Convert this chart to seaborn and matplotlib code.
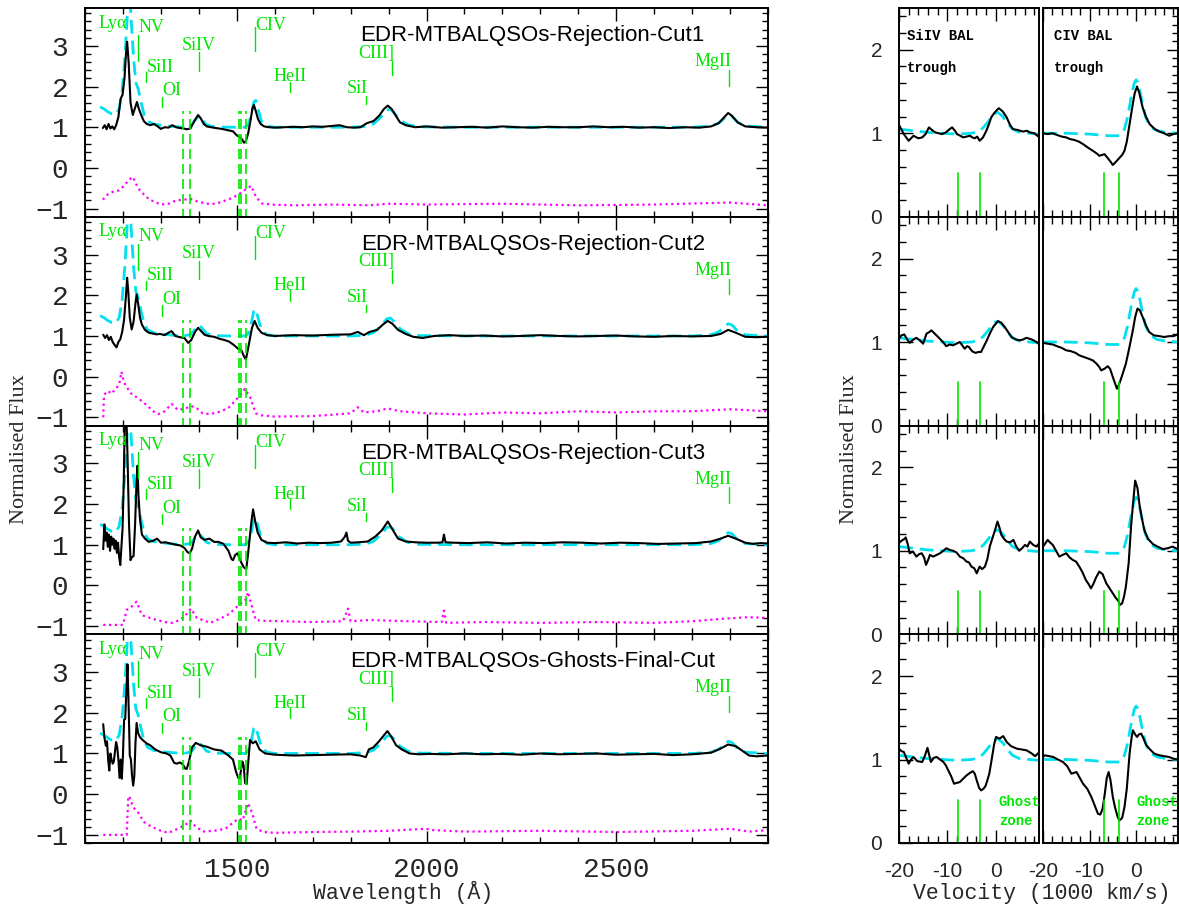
import matplotlib
matplotlib.use("Agg")
import matplotlib.pyplot as plt
import seaborn as sns
import numpy as np
from matplotlib.ticker import MultipleLocator, FixedLocator

# ---------------- data ----------------
PANEL_TITLES = ["EDR-MTBALQSOs-Rejection-Cut1", "EDR-MTBALQSOs-Rejection-Cut2",
                "EDR-MTBALQSOs-Rejection-Cut3", "EDR-MTBALQSOs-Ghosts-Final-Cut"]

# non-BAL template (cyan dashed), wavelength (A), normalised flux
TEMPLATE = [(1140, 1.50), (1150, 1.45), (1160, 1.38), (1170, 1.33), (1180, 1.30), (1190, 1.45),
            (1198, 1.9), (1205, 2.7), (1210, 3.5), (1216, 4.6), (1222, 3.6), (1228, 2.7),
            (1234, 2.1), (1240, 1.95), (1248, 1.6), (1256, 1.3), (1265, 1.15), (1280, 1.08),
            (1300, 1.05), (1330, 1.02), (1360, 1.0), (1380, 1.04), (1392, 1.2), (1400, 1.27),
            (1408, 1.2), (1420, 1.06), (1440, 1.01), (1480, 1.0), (1520, 1.0), (1530, 1.05),
            (1538, 1.3), (1545, 1.62), (1550, 1.66), (1556, 1.45), (1565, 1.15), (1580, 1.03),
            (1600, 1.0), (1700, 1.0), (1800, 1.0), (1840, 1.02), (1860, 1.08), (1880, 1.25),
            (1895, 1.42), (1905, 1.44), (1915, 1.35), (1930, 1.18), (1950, 1.06), (1980, 1.01),
            (2100, 1.0), (2300, 1.0), (2500, 1.0), (2700, 1.0), (2750, 1.03), (2770, 1.1),
            (2785, 1.22), (2795, 1.3), (2805, 1.27), (2820, 1.12), (2840, 1.03), (2900, 1.0)]

# composite spectra (black)
CUT1 = [(1147, 0.98), (1152, 1.05), (1157, 0.95), (1162, 1.08), (1167, 0.97), (1172, 1.02), (1177, 0.95),
        (1182, 1.05), (1188, 1.25), (1194, 1.7), (1199, 1.8), (1204, 2.2), (1208, 2.8), (1211, 3.1),
        (1215, 2.6), (1220, 1.6), (1226, 1.3), (1231, 1.45), (1237, 1.62), (1242, 1.45), (1248, 1.3),
        (1255, 1.15), (1263, 1.08), (1272, 1.05), (1282, 1.08), (1290, 1.03), (1300, 0.96), (1310, 1.0),
        (1320, 0.99), (1330, 1.05), (1340, 1.0), (1350, 0.98), (1360, 0.97), (1368, 0.95), (1378, 0.97),
        (1388, 1.15), (1398, 1.3), (1405, 1.22), (1413, 1.08), (1421, 1.02), (1432, 1.0), (1445, 0.98),
        (1460, 0.96), (1475, 0.93), (1490, 0.9), (1500, 0.8), (1508, 0.76), (1514, 0.7), (1519, 0.62),
        (1524, 0.66), (1530, 0.85), (1536, 1.15), (1541, 1.45), (1545, 1.55), (1550, 1.4), (1556, 1.2),
        (1563, 1.08), (1572, 1.02), (1585, 1.0), (1600, 0.99), (1625, 1.0), (1650, 1.01), (1675, 1.0),
        (1700, 1.02), (1725, 1.01), (1750, 1.03), (1771, 1.05), (1790, 1.0), (1810, 0.99), (1826, 1.0),
        (1843, 1.1), (1860, 1.15), (1875, 1.28), (1888, 1.45), (1898, 1.53), (1908, 1.45), (1918, 1.3),
        (1930, 1.12), (1945, 1.05), (1970, 1.0), (2000, 1.02), (2040, 0.99), (2080, 1.0), (2120, 1.01),
        (2160, 0.99), (2200, 1.02), (2240, 1.0), (2280, 0.99), (2320, 1.01), (2360, 1.0), (2400, 1.0),
        (2440, 1.02), (2480, 1.0), (2520, 1.01), (2560, 0.99), (2600, 1.0), (2640, 0.98), (2680, 1.0),
        (2720, 0.99), (2750, 1.02), (2770, 1.1), (2785, 1.25), (2795, 1.35), (2805, 1.28), (2820, 1.12),
        (2840, 1.02), (2870, 1.0), (2900, 0.99)]
CUT2 = [(1148, 1.03), (1153, 0.95), (1158, 1.02), (1163, 0.9), (1168, 0.98), (1173, 0.85), (1178, 0.78),
        (1183, 0.72), (1188, 0.85), (1193, 0.92), (1198, 1.1), (1203, 1.4), (1208, 2.0), (1211, 2.43),
        (1214, 2.1), (1218, 1.45), (1223, 1.16), (1228, 1.35), (1233, 1.8), (1236, 2.02), (1240, 1.8),
        (1245, 1.45), (1250, 1.28), (1258, 1.15), (1268, 1.08), (1278, 1.06), (1288, 1.04), (1298, 1.05),
        (1310, 1.02), (1320, 1.08), (1328, 1.12), (1338, 1.0), (1350, 0.97), (1362, 0.95), (1372, 0.83),
        (1380, 0.9), (1390, 1.1), (1398, 1.2), (1406, 1.12), (1415, 1.03), (1425, 1.0), (1440, 0.98),
        (1455, 0.93), (1468, 0.9), (1480, 0.86), (1492, 0.78), (1503, 0.69), (1512, 0.65), (1519, 0.5),
        (1524, 0.42), (1530, 0.7), (1535, 0.95), (1540, 1.2), (1547, 1.37), (1555, 1.2), (1565, 1.08),
        (1580, 1.02), (1600, 1.0), (1650, 1.02), (1700, 1.01), (1750, 1.03), (1800, 1.04), (1819, 1.1),
        (1835, 1.02), (1850, 1.1), (1870, 1.15), (1885, 1.28), (1898, 1.37), (1910, 1.3), (1925, 1.15),
        (1945, 1.05), (1965, 0.98), (1990, 0.95), (2020, 1.0), (2060, 1.02), (2100, 1.0), (2150, 1.01),
        (2200, 0.99), (2250, 1.0), (2300, 1.02), (2350, 1.0), (2400, 0.99), (2450, 1.0), (2500, 1.01),
        (2550, 0.99), (2600, 0.98), (2650, 1.0), (2700, 0.99), (2750, 1.0), (2775, 1.05), (2795, 1.15),
        (2815, 1.08), (2840, 0.98), (2870, 0.97), (2900, 0.98)]
CUT3 = [(1148, 0.89), (1151, 1.5), (1154, 1.1), (1157, 1.3), (1160, 0.95), (1163, 1.25), (1166, 0.85),
        (1169, 1.2), (1172, 1.0), (1175, 1.15), (1178, 0.9), (1181, 1.1), (1184, 0.8), (1187, 1.05),
        (1190, 0.7), (1193, 0.5), (1196, 0.95), (1199, 1.4), (1202, 2.5), (1205, 4.2), (1208, 4.5),
        (1212, 3.2), (1216, 1.5), (1220, 0.62), (1224, 0.7), (1228, 0.72), (1232, 1.5), (1236, 2.6),
        (1238, 2.94), (1241, 2.2), (1245, 1.62), (1250, 1.25), (1258, 1.15), (1268, 1.07), (1280, 1.1),
        (1290, 1.15), (1300, 1.05), (1312, 1.06), (1325, 1.03), (1340, 1.0), (1352, 0.98), (1362, 0.92),
        (1370, 0.82), (1376, 0.79), (1382, 0.9), (1390, 1.2), (1398, 1.35), (1405, 1.18), (1415, 1.12),
        (1428, 1.15), (1440, 1.07), (1452, 1.07), (1465, 1.02), (1478, 0.85), (1486, 0.65), (1490, 0.62),
        (1496, 0.75), (1502, 0.79), (1510, 0.6), (1518, 0.45), (1525, 0.4), (1530, 0.8), (1535, 1.25),
        (1539, 1.6), (1543, 1.87), (1548, 1.6), (1555, 1.3), (1565, 1.12), (1580, 1.05), (1600, 1.04),
        (1630, 1.06), (1660, 1.03), (1690, 1.05), (1720, 1.04), (1750, 1.05), (1775, 1.08), (1785, 1.2),
        (1789, 1.3), (1793, 1.1), (1800, 1.05), (1820, 1.06), (1845, 1.08), (1865, 1.2), (1882, 1.35),
        (1898, 1.57), (1912, 1.35), (1925, 1.15), (1945, 1.08), (1970, 1.06), (2000, 1.05), (2030, 1.05),
        (2042, 1.06), (2046, 1.25), (2050, 1.06), (2070, 1.05), (2110, 1.04), (2160, 1.06), (2210, 1.03),
        (2260, 1.05), (2310, 1.04), (2360, 1.06), (2410, 1.05), (2460, 1.03), (2510, 1.05), (2560, 1.04),
        (2610, 1.02), (2660, 1.03), (2710, 1.04), (2750, 1.08), (2775, 1.15), (2795, 1.22), (2815, 1.15),
        (2840, 1.05), (2860, 1.02), (2880, 1.04), (2900, 1.03)]
CUT4 = [(1148, 1.72), (1151, 1.4), (1155, 1.19), (1158, 1.3), (1161, 0.85), (1164, 0.58), (1167, 1.0),
        (1170, 0.85), (1173, 0.75), (1176, 0.8), (1179, 1.05), (1182, 1.28), (1185, 1.15), (1188, 0.85),
        (1191, 0.4), (1194, 0.85), (1197, 0.38), (1200, 0.95), (1203, 1.83), (1206, 1.85), (1209, 2.55),
        (1212, 3.19), (1215, 2.15), (1218, 0.95), (1221, 0.85), (1224, 0.45), (1227, 0.21), (1230, 0.45),
        (1233, 1.25), (1236, 1.75), (1240, 1.5), (1245, 1.4), (1252, 1.33), (1262, 1.25), (1272, 1.2),
        (1285, 1.1), (1300, 1.03), (1315, 1.0), (1325, 0.95), (1335, 0.77), (1342, 0.75), (1350, 0.78),
        (1358, 0.73), (1364, 0.63), (1368, 0.62), (1374, 0.8), (1382, 1.15), (1392, 1.26), (1405, 1.2),
        (1420, 1.17), (1440, 1.1), (1460, 1.07), (1478, 0.95), (1490, 0.85), (1498, 0.55), (1504, 0.4),
        (1508, 0.39), (1512, 0.65), (1515, 0.8), (1518, 0.7), (1522, 0.27), (1526, 0.25), (1530, 0.75),
        (1535, 1.33), (1542, 1.25), (1550, 1.3), (1560, 1.1), (1575, 1.0), (1600, 0.97), (1650, 0.95),
        (1700, 0.96), (1750, 0.97), (1800, 0.98), (1825, 0.95), (1840, 0.91), (1848, 1.1), (1860, 1.15),
        (1875, 1.3), (1888, 1.45), (1897, 1.55), (1908, 1.4), (1920, 1.2), (1935, 1.1), (1955, 1.0),
        (1980, 0.98), (2010, 0.99), (2050, 0.98), (2100, 1.0), (2150, 0.98), (2200, 0.99), (2250, 0.97),
        (2300, 1.0), (2350, 0.98), (2400, 0.99), (2450, 1.0), (2500, 0.97), (2550, 0.98), (2600, 0.99),
        (2650, 0.96), (2700, 0.98), (2750, 1.02), (2775, 1.12), (2795, 1.22), (2815, 1.18), (2835, 1.05),
        (2850, 0.95), (2870, 0.93), (2900, 0.95)]

# lower (magenta dotted) traces, offset below the spectra
LOW1 = [(1147, -0.78), (1160, -0.65), (1175, -0.58), (1190, -0.55), (1205, -0.42), (1215, -0.3),
        (1226, -0.22), (1240, -0.5), (1255, -0.65), (1270, -0.78), (1285, -0.84), (1300, -0.9),
        (1320, -0.88), (1340, -0.8), (1360, -0.78), (1378, -0.76), (1395, -0.82), (1420, -0.88),
        (1445, -0.88), (1470, -0.8), (1490, -0.73), (1505, -0.65), (1520, -0.55), (1538, -0.44),
        (1550, -0.7), (1565, -0.87), (1590, -0.9), (1650, -0.92), (1750, -0.9), (1850, -0.92),
        (1900, -0.88), (2000, -0.9), (2200, -0.88), (2400, -0.92), (2600, -0.9), (2800, -0.85), (2900, -0.92)]
LOW2 = [(1148, -1.0), (1150, -0.45), (1160, -0.35), (1170, -0.42), (1180, -0.3), (1190, -0.2),
        (1196, 0.12), (1203, -0.15), (1210, -0.25), (1220, -0.4), (1235, -0.5), (1250, -0.6),
        (1265, -0.72), (1280, -0.85), (1293, -0.92), (1310, -0.85), (1328, -0.67), (1345, -0.82),
        (1365, -0.78), (1380, -0.72), (1395, -0.78), (1410, -0.9), (1430, -0.92), (1460, -0.85),
        (1480, -0.75), (1495, -0.6), (1510, -0.45), (1521, -0.3), (1535, -0.5), (1550, -0.9),
        (1565, -0.95), (1600, -0.98), (1700, -0.97), (1800, -0.9), (1819, -0.75), (1835, -0.88),
        (1870, -0.85), (1898, -0.78), (1930, -0.85), (2000, -0.9), (2100, -0.93), (2200, -0.88),
        (2300, -0.9), (2400, -0.85), (2500, -0.88), (2600, -0.85), (2700, -0.85), (2800, -0.8), (2900, -0.85)]
LOW3 = [(1148, -0.97), (1170, -0.97), (1190, -0.97), (1200, -0.97), (1210, -0.6), (1220, -0.55),
        (1236, -0.4), (1250, -0.73), (1265, -0.78), (1290, -0.85), (1310, -0.9), (1330, -0.92),
        (1350, -0.85), (1365, -0.73), (1379, -0.57), (1395, -0.8), (1410, -0.85), (1430, -0.92),
        (1460, -0.8), (1480, -0.7), (1495, -0.57), (1510, -0.45), (1522, -0.37), (1530, -0.16),
        (1540, -0.53), (1550, -0.85), (1570, -0.87), (1620, -0.88), (1700, -0.9), (1780, -0.88),
        (1793, -0.57), (1800, -0.88), (1850, -0.85), (1950, -0.88), (2040, -0.9), (2046, -0.62),
        (2052, -0.92), (2150, -0.9), (2300, -0.92), (2450, -0.9), (2600, -0.92), (2700, -0.88),
        (2780, -0.82), (2850, -0.78), (2900, -0.8)]
LOW4 = [(1148, -1.0), (1180, -1.0), (1210, -1.0), (1214, -0.07), (1217, -0.05), (1222, -0.2),
        (1230, -0.35), (1240, -0.45), (1255, -0.68), (1275, -0.8), (1300, -0.9), (1320, -0.95),
        (1345, -0.85), (1365, -0.75), (1378, -0.65), (1390, -0.78), (1410, -0.92), (1440, -0.9),
        (1470, -0.85), (1490, -0.7), (1505, -0.6), (1515, -0.65), (1522, -0.45), (1530, -0.22),
        (1540, -0.45), (1552, -0.85), (1570, -0.93), (1600, -0.95), (1700, -0.93), (1800, -0.92),
        (1900, -0.9), (2000, -0.85), (2010, -0.88), (2100, -0.92), (2300, -0.9), (2500, -0.93),
        (2700, -0.9), (2800, -0.85), (2850, -0.92), (2900, -0.88)]

# emission line identifications
LINE_NAMES = ["Lyα", "NV", "SiII", "OI", "SiIV", "CIV", "HeII", "SiI", "CIII]", "MgII"]
LINE_WAVES = [1216, 1240, 1262, 1304, 1400, 1549, 1640, 1840, 1909, 2798]
LINE_TEXT_X = [1210, 1240, 1262, 1304, 1400, 1549, 1640, 1845, 1914, 2803]
LINE_TEXT_Y = [3.56, 3.44, 2.48, 1.90, 3.02, 3.51, 2.24, 1.94, 2.82, 2.61]
LINE_HA = ["right", "left", "left", "left", "center", "left", "center", "right", "right", "right"]
LINE_TICK_TOP = [np.nan, 3.27, 2.36, 1.75, 2.85, 3.46, 2.12, 1.77, 2.63, 2.41]
LINE_TICK_BOT = [np.nan, 2.63, 2.12, 1.50, 2.39, 2.88, 1.87, 1.58, 2.29, 2.02]
TROUGH_WAVES = [1357, 1378, 1505, 1510, 1524]

# velocity panels (1000 km/s)
SIV_TEMPLATE = [(-20, 1.05), (-17, 1.03), (-14, 1.01), (-11, 1.0), (-8, 0.99), (-5, 1.0), (-3.5, 1.02),
                (-2.5, 1.07), (-1.5, 1.14), (-0.5, 1.23), (0.5, 1.25), (1.5, 1.2), (2.5, 1.12),
                (3.5, 1.05), (5, 1.01), (7, 1.0), (9, 0.99)]
CIV_TEMPLATE = [(-20, 1.0), (-15, 1.0), (-10, 0.99), (-6, 0.97), (-3.5, 0.97), (-2.5, 1.05), (-1.8, 1.2),
                (-1, 1.45), (-0.4, 1.6), (0, 1.64), (0.5, 1.6), (1.2, 1.4), (2, 1.2), (3, 1.08),
                (4.5, 1.03), (6.5, 1.01), (9, 1.0)]
SIV1 = [(-20, 1.10), (-19, 0.99), (-18, 0.91), (-17, 0.97), (-16, 0.94), (-15.2, 0.95), (-14.5, 0.99),
        (-13.8, 1.07), (-13.2, 1.04), (-12.5, 1.01), (-11.8, 1.0), (-11.1, 0.99), (-10.3, 1.01), (-9.5, 1.05),
        (-9, 1.07), (-8.4, 1.03), (-8, 0.99), (-7.3, 0.97), (-6.7, 0.95), (-6, 0.96), (-5.3, 0.97),
        (-4.8, 0.95), (-4.3, 0.94), (-3.8, 0.96), (-3.3, 0.91), (-2.6, 0.95), (-1.9, 1.03), (-1.3, 1.12),
        (-0.9, 1.19), (-0.3, 1.24), (0.3, 1.28), (0.7, 1.30), (1.5, 1.26), (2.3, 1.19), (3, 1.1),
        (3.6, 1.05), (4.5, 1.04), (5.7, 1.02), (6.5, 1.03), (7.1, 1.01), (8, 1.0), (8.9, 0.96)]
CIV1 = [(-20, 1.0), (-19, 0.99), (-18, 1.0), (-17, 0.98), (-16, 0.96), (-15, 0.95), (-14.2, 0.93),
        (-13.3, 0.92), (-12.3, 0.9), (-11.4, 0.87), (-10.4, 0.83), (-9.3, 0.79), (-8.5, 0.76), (-7.9, 0.73),
        (-7.3, 0.74), (-6.8, 0.75), (-6.2, 0.71), (-5.5, 0.66), (-5.0, 0.62), (-4.3, 0.66), (-3.5, 0.71),
        (-3.0, 0.74), (-2.5, 0.79), (-2.0, 0.9), (-1.4, 1.11), (-0.8, 1.32), (-0.3, 1.48), (0.2, 1.56),
        (0.7, 1.48), (1.4, 1.31), (2.1, 1.2), (2.9, 1.11), (4, 1.05), (5, 1.02), (6, 1.0), (7.1, 0.97),
        (8, 0.99), (8.9, 1.0)]
SIV2 = [(-20, 1.04), (-19.5, 1.08), (-18.9, 1.09), (-18.3, 1.03), (-17.8, 0.99), (-17, 1.03), (-16.4, 1.05),
        (-15.7, 1.02), (-15, 0.98), (-14.3, 1.1), (-13.7, 1.12), (-13.3, 1.14), (-12.6, 1.1), (-11.9, 1.06),
        (-10.9, 1.0), (-10.2, 0.95), (-9.5, 0.97), (-8.8, 0.96), (-8.1, 0.98), (-7.4, 1.0), (-6.9, 0.96),
        (-6.4, 0.92), (-5.9, 0.95), (-5.5, 0.94), (-5, 0.9), (-4.6, 0.88), (-4.1, 0.87), (-3.6, 0.88),
        (-3, 0.88), (-2.5, 0.94), (-1.8, 1.02), (-1.2, 1.1), (-0.5, 1.18), (0.5, 1.25), (1.2, 1.23),
        (1.9, 1.18), (2.6, 1.12), (3.3, 1.06), (4.2, 1.03), (5, 1.02), (5.7, 1.03), (6.4, 1.05),
        (7.5, 1.03), (8.5, 1.0), (8.9, 0.98)]
CIV2 = [(-20, 0.99), (-19, 0.98), (-17.9, 0.97), (-17, 0.95), (-16, 0.93), (-15, 0.9), (-14, 0.89),
        (-13, 0.87), (-12.2, 0.84), (-11.2, 0.82), (-10.2, 0.8), (-9.3, 0.78), (-8.5, 0.74), (-7.9, 0.7),
        (-7.5, 0.66), (-6.8, 0.68), (-6.1, 0.71), (-5.6, 0.68), (-5, 0.58), (-4.5, 0.5), (-4.1, 0.44),
        (-3.6, 0.5), (-3, 0.6), (-2.2, 0.74), (-1.5, 0.92), (-0.7, 1.14), (-0.2, 1.3), (0.3, 1.4),
        (0.8, 1.38), (1.4, 1.3), (2.1, 1.2), (2.8, 1.12), (3.8, 1.08), (5, 1.07), (6, 1.06), (7.1, 1.07),
        (8, 1.07), (8.9, 1.09)]
SIV3 = [(-20, 1.09), (-19.5, 1.12), (-18.9, 1.14), (-18.6, 1.16), (-18.2, 1.08), (-17.8, 0.97), (-17.1, 0.99),
        (-16.4, 0.93), (-15.8, 0.96), (-15.3, 0.97), (-14.8, 0.92), (-14.4, 0.83), (-13.9, 0.9), (-13.6, 0.95),
        (-12.9, 0.93), (-12.2, 0.95), (-11.5, 0.97), (-10.8, 1.0), (-10.2, 1.03), (-9.5, 1.01), (-8.8, 1.0),
        (-8.1, 0.98), (-7.4, 0.93), (-6.7, 0.91), (-6, 0.87), (-5.5, 0.86), (-5, 0.81), (-4.4, 0.79),
        (-3.9, 0.73), (-3.6, 0.77), (-3.3, 0.81), (-2.8, 0.78), (-2.2, 0.81), (-1.7, 0.9), (-1.2, 1.05),
        (-0.6, 1.16), (-0.2, 1.23), (0.4, 1.35), (0.8, 1.28), (1.2, 1.19), (1.8, 1.14), (2.3, 1.11),
        (3, 1.1), (3.7, 1.13), (4.3, 1.05), (4.9, 1.0), (5.5, 1.03), (6.1, 1.07), (6.6, 1.05), (7.1, 1.11),
        (7.8, 1.07), (8.5, 1.05), (8.9, 1.08)]
CIV3 = [(-20, 1.05), (-19.6, 1.08), (-19, 1.13), (-18.5, 1.1), (-17.9, 1.07), (-17.2, 1.0), (-16.5, 0.93),
        (-15.8, 0.95), (-15, 0.97), (-14.3, 0.92), (-13.6, 0.89), (-12.9, 0.87), (-12.2, 0.81), (-11.5, 0.74),
        (-10.8, 0.65), (-10.2, 0.6), (-9.7, 0.55), (-9.2, 0.6), (-8.6, 0.68), (-7.9, 0.75), (-7.2, 0.72),
        (-6.4, 0.61), (-5.7, 0.55), (-5, 0.49), (-4.3, 0.43), (-3.8, 0.4), (-3.5, 0.35), (-3.0, 0.37),
        (-2.6, 0.45), (-2.2, 0.57), (-1.6, 0.85), (-1.1, 1.28), (-0.6, 1.6), (-0.2, 1.84), (0.3, 1.75),
        (0.7, 1.56), (1.2, 1.4), (1.8, 1.24), (2.6, 1.14), (3.6, 1.08), (4.6, 1.05), (5.7, 1.02),
        (6.8, 1.03), (7.8, 1.05), (8.9, 1.02)]
SIV4 = [(-20, 1.13), (-19.5, 1.1), (-19, 1.09), (-18.5, 1.02), (-18, 0.95), (-17.5, 1.0), (-17, 1.03),
        (-16.2, 0.98), (-15.2, 0.97), (-14.6, 1.05), (-14.1, 1.14), (-13.4, 0.97), (-12.8, 1.02), (-12.2, 1.03),
        (-11.5, 1.0), (-10.8, 0.97), (-10.3, 0.93), (-9.8, 0.87), (-9.2, 0.8), (-8.6, 0.71), (-8, 0.72),
        (-7.4, 0.73), (-6.7, 0.77), (-6, 0.81), (-5.3, 0.84), (-4.7, 0.86), (-4.3, 0.83), (-3.9, 0.75),
        (-3.4, 0.66), (-3, 0.63), (-2.5, 0.65), (-2.1, 0.68), (-1.7, 0.75), (-1.3, 0.83), (-0.8, 1.0),
        (-0.3, 1.18), (0.1, 1.27), (0.8, 1.25), (1.6, 1.28), (2.3, 1.21), (3.2, 1.16), (4.4, 1.13),
        (5.4, 1.12), (6.4, 1.11), (7.3, 1.08), (8.2, 1.04), (8.9, 1.08)]
CIV4 = [(-20, 1.03), (-19.6, 1.05), (-18.7, 1.04), (-17.8, 1.03), (-16.8, 1.0), (-15.7, 0.97), (-14.8, 0.92),
        (-13.9, 0.83), (-12.8, 0.85), (-12.1, 0.78), (-11.4, 0.71), (-10.5, 0.65), (-9.6, 0.55), (-8.9, 0.45),
        (-8.2, 0.35), (-7.7, 0.34), (-7.2, 0.41), (-6.7, 0.6), (-6.3, 0.78), (-5.9, 0.85), (-5.5, 0.75),
        (-5, 0.55), (-4.5, 0.42), (-4, 0.32), (-3.6, 0.27), (-3, 0.3), (-2.5, 0.43), (-2, 0.65),
        (-1.4, 1.07), (-1, 1.25), (-0.7, 1.35), (-0.2, 1.3), (0.2, 1.27), (0.6, 1.3), (1.1, 1.31),
        (1.6, 1.25), (2.2, 1.17), (3, 1.12), (3.9, 1.07), (5, 1.05), (6, 1.04), (7.1, 1.03), (8, 1.01),
        (8.9, 1.0)]
SIV_MARKS = [-7.8, -3.3]
CIV_MARKS = [-6.9, -3.7]

CUTS = [CUT1, CUT2, CUT3, CUT4]
LOWS = [LOW1, LOW2, LOW3, LOW4]
SIVS = [SIV1, SIV2, SIV3, SIV4]
CIVS = [CIV1, CIV2, CIV3, CIV4]

# ---------------- style ----------------
sns.set_theme(style="ticks")
plt.rcParams["font.family"] = ["DejaVu Sans"]
plt.rcParams["axes.linewidth"] = 1.4

CYAN = "#00e0ee"
MAGENTA = "#ff00ff"
GREEN = "#00e600"
MONO = "Liberation Mono"
SERIF = "Liberation Serif"
SANS = "Liberation Sans"

W, H = 1179, 909
fig = plt.figure(figsize=(W / 100, H / 100), dpi=100)
fig.patch.set_facecolor("white")


def rect(left, top, right, bottom):
    return [left / W, 1 - bottom / H, (right - left) / W, (bottom - top) / H]


TOP, BOT = 8, 843
ROWH = (BOT - TOP) / 4


def xy(pairs):
    a = np.array(pairs, dtype=float)
    return a[:, 0], a[:, 1]


def draw(ax, pairs, **kw):
    x, y = xy(pairs)
    sns.lineplot(x=x, y=y, ax=ax, sort=False, estimator=None, **kw)


for i in range(4):
    t = TOP + i * ROWH
    b = t + ROWH
    ax = fig.add_axes(rect(85, t, 768, b))
    ax.set_facecolor("white")
    draw(ax, LOWS[i], color=MAGENTA, lw=1.6, linestyle=(0, (1, 1.6)))
    draw(ax, TEMPLATE, color=CYAN, lw=2.0, linestyle=(0, (5, 2.5)))
    draw(ax, CUTS[i], color="black", lw=1.5)
    for w in TROUGH_WAVES:
        ax.plot([w, w], [-1.25, 1.4], color=GREEN, lw=1.2, linestyle=(0, (6, 3)))
    for name, w, tx, ty, ha, t1, t0 in zip(LINE_NAMES, LINE_WAVES, LINE_TEXT_X, LINE_TEXT_Y,
                                           LINE_HA, LINE_TICK_TOP, LINE_TICK_BOT):
        if not np.isnan(t1):
            ax.plot([w, w], [t0, t1], color=GREEN, lw=1.0)
        ax.text(tx, ty, name, color=GREEN, ha=ha, va="center", fontsize=13, family=SERIF)
    ax.text(2280, 3.25, PANEL_TITLES[i], ha="center", va="center", fontsize=16, family=SANS,
            color="black")
    ax.set_xlim(1100, 2900)
    ax.set_ylim(-1.2, 3.93)
    ax.xaxis.set_major_locator(FixedLocator([1500, 2000, 2500]))
    ax.xaxis.set_minor_locator(MultipleLocator(100))
    ax.yaxis.set_major_locator(FixedLocator([-1, 0, 1, 2, 3]))
    ax.yaxis.set_minor_locator(MultipleLocator(0.2))
    ax.tick_params(which="both", direction="in", top=True, right=True, left=True, bottom=True,
                   color="black", width=1.0)
    ax.tick_params(which="major", length=9)
    ax.tick_params(which="minor", length=4.5)
    ax.set_yticklabels(["\u22121", "0", "1", "2", "3"], family=MONO, fontsize=20)
    ax.tick_params(axis="y", pad=12)
    if i == 3:
        ax.set_xticklabels(["1500", "2000", "2500"], family=MONO, fontsize=20)
        ax.tick_params(axis="x", pad=10)
    else:
        ax.tick_params(axis="x", labelbottom=False)
    ax.set_xlabel("")
    ax.set_ylabel("")
    for s in ax.spines.values():
        s.set_color("black")
        s.set_linewidth(1.4)

COLS = [(899, 1039), (1043, 1178)]
for i in range(4):
    t = TOP + i * ROWH
    b = t + ROWH
    for c, (l, r) in enumerate(COLS):
        ax = fig.add_axes(rect(l, t, r, b))
        ax.set_facecolor("white")
        if c == 0:
            draw(ax, SIV_TEMPLATE, color=CYAN, lw=2.0, linestyle=(0, (5, 2.5)))
            draw(ax, SIVS[i], color="black", lw=1.5)
            marks = SIV_MARKS
        else:
            draw(ax, CIV_TEMPLATE, color=CYAN, lw=2.0, linestyle=(0, (5, 2.5)))
            draw(ax, CIVS[i], color="black", lw=1.5)
            marks = CIV_MARKS
        for m in marks:
            ax.plot([m, m], [0, 0.52], color=GREEN, lw=1.2)
        ax.set_xlim(-20, 9)
        ax.set_ylim(0, 2.5)
        ax.xaxis.set_major_locator(FixedLocator([-20, -10, 0]))
        ax.xaxis.set_minor_locator(MultipleLocator(2))
        ax.tick_params(axis="x", which="both", direction="in", top=True, bottom=True, color="black",
                       width=1.0)
        ax.tick_params(axis="x", which="major", length=9.5)
        ax.tick_params(axis="x", which="minor", length=5)
        if c == 0:
            ax.yaxis.set_major_locator(FixedLocator([0, 1, 2]))
            ax.yaxis.set_minor_locator(MultipleLocator(0.2))
            ax.tick_params(axis="y", which="both", direction="in", left=True, right=False,
                           color="black", width=1.0, pad=12)
            ax.tick_params(axis="y", which="major", length=10)
            ax.tick_params(axis="y", which="minor", length=5)
            ax.set_yticklabels(["0", "1", "2"], family=SANS, fontsize=15)
            if i == 0:
                ax.text(-18.4, 2.16, "SiIV BAL", ha="left", va="center", fontsize=10, family=MONO,
                        weight="bold", color="black")
                ax.text(-18.4, 1.78, "trough", ha="left", va="center", fontsize=10, family=MONO,
                        weight="bold", color="black")
            if i == 3:
                ax.text(0.7, 0.49, "Ghost", ha="left", va="center", fontsize=10, family=MONO,
                        weight="bold", color=GREEN, clip_on=False)
                ax.text(0.7, 0.26, "zone", ha="left", va="center", fontsize=10, family=MONO,
                        weight="bold", color=GREEN, clip_on=False)
        else:
            ax.yaxis.set_major_locator(MultipleLocator(0.5))
            ax.yaxis.set_minor_locator(MultipleLocator(0.1))
            ax.tick_params(axis="y", which="both", direction="in", left=False, right=True,
                           labelleft=False, labelright=False, color="black", width=1.0)
            ax.tick_params(axis="y", which="major", length=8)
            ax.tick_params(axis="y", which="minor", length=4.5)
            if i == 0:
                ax.text(-17.7, 2.16, "CIV BAL", ha="left", va="center", fontsize=10, family=MONO,
                        weight="bold", color="black")
                ax.text(-17.7, 1.78, "trough", ha="left", va="center", fontsize=10, family=MONO,
                        weight="bold", color="black")
            if i == 3:
                ax.text(0.1, 0.49, "Ghost", ha="left", va="center", fontsize=10, family=MONO,
                        weight="bold", color=GREEN, clip_on=False)
                ax.text(0.1, 0.26, "zone", ha="left", va="center", fontsize=10, family=MONO,
                        weight="bold", color=GREEN, clip_on=False)
        if i == 3:
            ax.set_xticklabels(["-20", "-10", "0"], family=SANS, fontsize=15)
            ax.tick_params(axis="x", pad=14)
        else:
            ax.tick_params(axis="x", labelbottom=False)
        ax.set_xlabel("")
        ax.set_ylabel("")
        for s in ax.spines.values():
            s.set_color("black")
            s.set_linewidth(1.4)

fig.text(20 / W, 1 - 449 / H, "Normalised Flux", rotation=90, ha="center", va="center",
         fontsize=16, family=SERIF)
fig.text(850 / W, 1 - 449 / H, "Normalised Flux", rotation=90, ha="center", va="center",
         fontsize=16, family=SERIF)
fig.text(403 / W, 1 - 892 / H, "Wavelength (\u00c5)", ha="center", va="center", fontsize=15.5,
         family=MONO)
fig.text(1042 / W, 1 - 894 / H, "Velocity (1000 km/s)", ha="center", va="center", fontsize=15.5,
         family=MONO)

fig.savefig("out.png", dpi=100, facecolor="white")
